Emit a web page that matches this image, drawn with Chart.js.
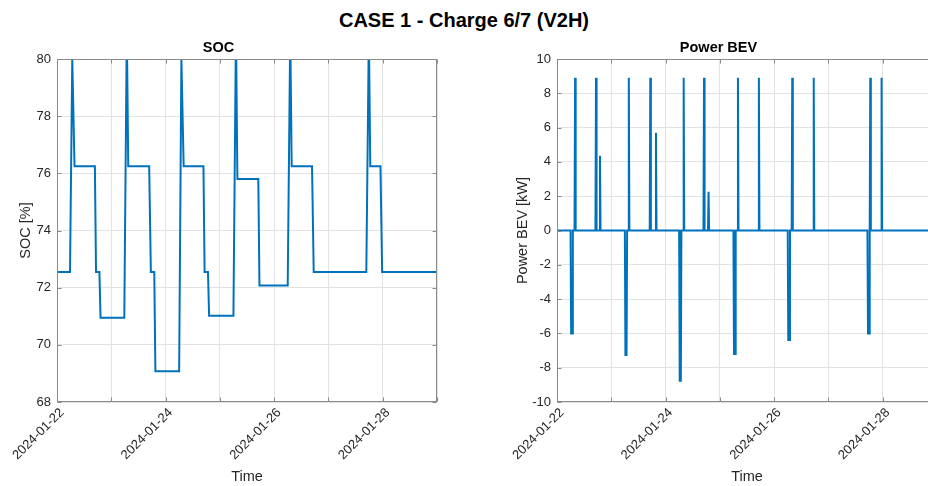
<!DOCTYPE html>
<html>
<head>
<meta charset="utf-8">
<title>CASE 1 - Charge 6/7 (V2H)</title>
<script src="https://cdn.jsdelivr.net/npm/chart.js@4.4.1/dist/chart.umd.min.js"></script>
<style>
  html, body { margin: 0; padding: 0; background: #fff; overflow: hidden; }
  body { width: 928px; height: 486px; position: relative; }
  #main-title {
    position: absolute; left: 0; top: 10px; width: 928px;
    text-align: center; color: #000;
    font: bold 20px 'Liberation Sans', Arial, sans-serif; line-height: 20px;
  }
  .panel { position: absolute; top: 0; width: 450px; height: 486px; }
  #soc-panel { left: 0; }
  #power-panel { left: 500px; }
</style>
</head>
<body>
<div id="main-title">CASE 1 - Charge 6/7 (V2H)</div>
<div class="panel" id="soc-panel"><canvas id="soc-chart" width="450" height="486"></canvas></div>
<div class="panel" id="power-panel"><canvas id="power-chart" width="450" height="486"></canvas></div>
<script>
// time axis: hours since 2024-01-22 00:00, one week
var startDate = Date.UTC(2024, 0, 22);
var dayTicks = [0, 24, 48, 72, 96, 120, 144, 168];

// battery state of charge [%]
var socHours = [0, 5.75, 6.75, 7.0, 7.75, 16.75, 17.25, 18.75, 19.25, 29.75, 30.75, 31.0, 31.5,
  40.75, 41.5, 43.0, 43.5, 54.0, 55.0, 55.25, 56.0, 64.75, 65.25, 66.75, 67.25,
  78.0, 79.0, 79.25, 79.75, 89.0, 89.5, 102.0, 103.0, 103.25, 103.75, 112.75, 113.5,
  136.75, 137.75, 138.0, 138.5, 143.0, 143.75, 168];
var socValues = [72.55, 72.55, 80, 80, 76.25, 76.25, 72.55, 72.55, 70.95, 70.95, 80, 80, 76.25,
  76.25, 72.55, 72.55, 69.08, 69.08, 80, 80, 76.25, 76.25, 72.55, 72.55, 71.02,
  71.02, 80, 80, 75.8, 75.8, 72.08, 72.08, 80, 80, 76.25, 76.25, 72.55,
  72.55, 80, 80, 76.25, 76.25, 72.55, 72.55];

// BEV power [kW] (negative = charging the car)
var powerHours = [0, 6.0, 6.25, 6.75, 7.0, 7.75, 8.0, 8.25, 17.0, 17.25, 17.5, 18.75, 19.0, 19.25,
  30.0, 30.25, 30.75, 31.0, 31.5, 31.75, 32.0, 41.0, 41.25, 41.5, 43.5, 43.75, 44.0,
  54.0, 54.25, 54.75, 55.0, 55.75, 56.0, 56.25, 64.75, 65.0, 65.25, 66.75, 67.0, 67.25,
  78.0, 78.25, 78.75, 79.0, 79.75, 80.0, 80.25, 89.0, 89.25, 89.5,
  102.0, 102.25, 102.75, 103.0, 103.75, 104.0, 104.25, 113.25, 113.5, 113.75,
  137.25, 137.5, 138.0, 138.25, 138.5, 138.75, 143.25, 143.5, 143.75, 168];
var powerKW = [0, 0, -6.0, -6.0, 0, 0, 8.9, 0, 0, 8.9, 0, 0, 4.36, 0,
  0, -7.26, -7.26, 0, 0, 8.9, 0, 0, 8.9, 0, 0, 5.7, 0,
  0, -8.76, -8.76, 0, 0, 8.9, 0, 0, 8.9, 0, 0, 2.26, 0,
  0, -7.2, -7.2, 0, 0, 8.9, 0, 0, 8.9, 0,
  0, -6.38, -6.38, 0, 0, 8.9, 0, 0, 8.9, 0,
  0, -6.0, -6.0, 0, 8.9, 0, 0, 8.9, 0, 0];

Chart.defaults.font.family = "'Liberation Sans', Arial, sans-serif";
Chart.defaults.color = '#262626';

function dateLabel(h) {
  if ((h / 24) % 2 !== 0) return '';
  var d = new Date(startDate + h * 3600000);
  return d.toISOString().slice(0, 10);
}

// box around the plot area with small inward tick marks
var axesBox = {
  id: 'axesBox',
  afterDraw: function (chart) {
    var ctx = chart.ctx, a = chart.chartArea;
    var sx = chart.scales.x, sy = chart.scales.y;
    var L = Math.round(a.left) + 0.5, R = Math.round(a.right) - 0.5;
    var T = Math.round(a.top) + 0.5, B = Math.round(a.bottom) - 0.5;
    ctx.save();
    ctx.strokeStyle = '#8a8a8a';
    ctx.lineWidth = 1;
    ctx.beginPath();
    sx.ticks.forEach(function (t) {
      var px = Math.round(sx.getPixelForValue(t.value)) + 0.5;
      ctx.moveTo(px, B); ctx.lineTo(px, B - 4);
      ctx.moveTo(px, T); ctx.lineTo(px, T + 4);
    });
    sy.ticks.forEach(function (t) {
      var py = Math.round(sy.getPixelForValue(t.value)) + 0.5;
      ctx.moveTo(L, py); ctx.lineTo(L + 4, py);
      ctx.moveTo(R, py); ctx.lineTo(R - 4, py);
    });
    ctx.stroke();
    ctx.strokeRect(L, T, R - L, B - T);
    ctx.restore();
  }
};

function makeChart(id, title, yTitle, hours, values, yMin, yMax, yTitlePad) {
  var pts = hours.map(function (h, i) { return {x: h, y: values[i]}; });
  return new Chart(document.getElementById(id), {
    type: 'line',
    data: {
      datasets: [{
        data: pts,
        borderColor: '#0072BD',
        borderWidth: 2,
        pointRadius: 0,
        tension: 0,
        fill: false
      }]
    },
    options: {
      responsive: false,
      animation: false,
      layout: {padding: {top: 39, right: 13, left: 0, bottom: 0}},
      plugins: {
        legend: {display: false},
        tooltip: {enabled: false},
        title: {
          display: true,
          text: title,
          color: '#000',
          font: {size: 14.5, weight: 'bold'},
          padding: {top: 0, bottom: 2.6}
        }
      },
      scales: {
        x: {
          type: 'linear',
          min: 0,
          max: 168,
          afterBuildTicks: function (scale) {
            scale.ticks = dayTicks.map(function (v) { return {value: v}; });
          },
          afterFit: function (scale) {
            scale.height = 84;
            scale.paddingLeft = 0;
            scale.paddingRight = 0;
          },
          grid: {color: '#e3e3e3', drawTicks: false},
          border: {display: false},
          ticks: {
            autoSkip: false,
            minRotation: 45,
            maxRotation: 45,
            padding: 3,
            labelOffset: 5,
            font: {size: 13},
            callback: function (v) { return dateLabel(v); }
          },
          title: {display: true, text: 'Time', font: {size: 14.5}, padding: {top: 0, bottom: 0}}
        },
        y: {
          min: yMin,
          max: yMax,
          afterFit: function (scale) { scale.width = 57; },
          grid: {color: '#e3e3e3', drawTicks: false},
          border: {display: false},
          ticks: {stepSize: 2, padding: 6, font: {size: 13}},
          title: {display: true, text: yTitle, font: {size: 14.5}, padding: {top: yTitlePad, bottom: 0}}
        }
      }
    },
    plugins: [axesBox]
  });
}

makeChart('soc-chart', 'SOC', 'SOC [%]', socHours, socValues, 68, 80, 17.6);
makeChart('power-chart', 'Power BEV', 'Power BEV [kW]', powerHours, powerKW, -10, 10, 13.8);
</script>
</body>
</html>
